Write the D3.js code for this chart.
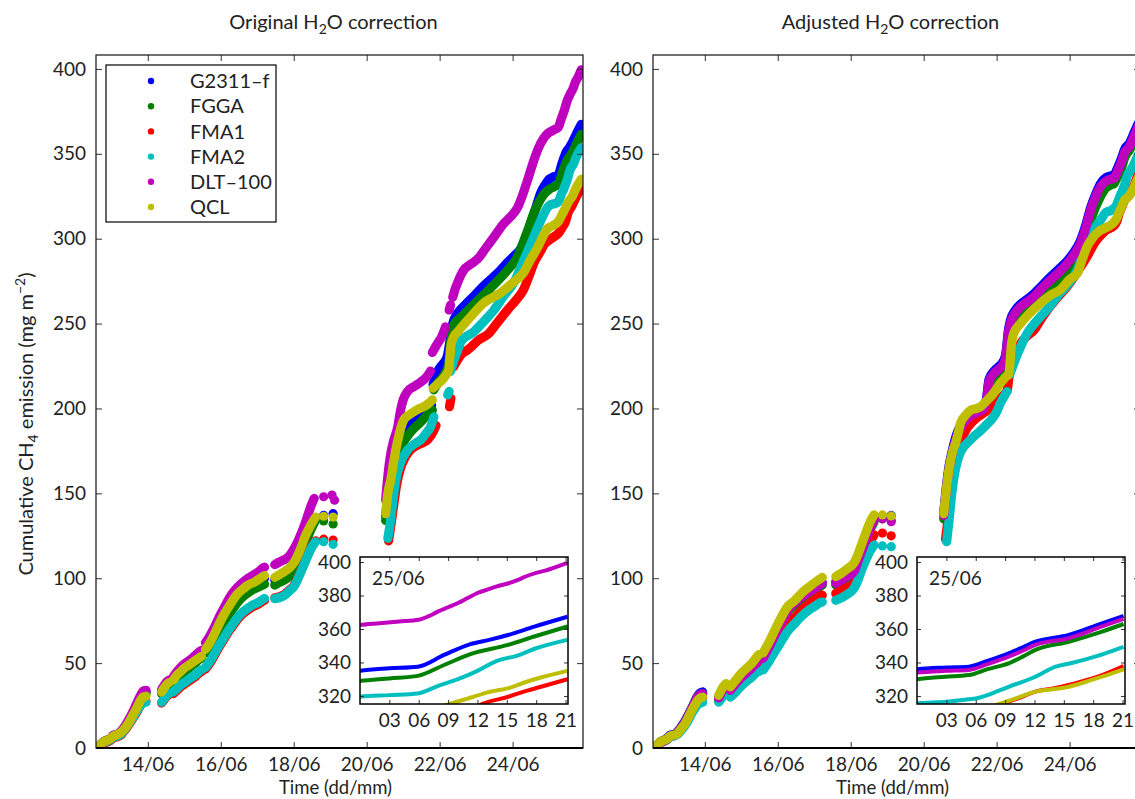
<!DOCTYPE html>
<html><head><meta charset="utf-8">
<script src="https://cdn.jsdelivr.net/npm/d3@7"></script>
<style>body{margin:0;background:#fff} text{font-family:Lato,"Open Sans",sans-serif;fill:#222}</style>
</head><body><svg id="c" width="1135" height="799"></svg>
<script>
const seriesNames = ["G2311–f","FGGA","FMA1","FMA2","DLT–100","QCL"];
const seriesColors = ["#0000ff","#008000","#ff0000","#00bfbf","#bf00bf","#bfbf00"];
const yTicks = [0,50,100,150,200,250,300,350,400];
const xTickDays = [14,16,18,20,22,24];
const insetYTicks = [320,340,360,380,400];
const insetXTicks = [3,6,9,12,15,18,21];
const insetDayLabel = "25/06";

// day-of-June (decimal), cumulative CH4 (mg m-2); null = gap
const origBlue = [[12.59,0],[12.68,1.5],[12.78,3.5],[12.88,4.5],[12.98,5.5],[13.05,7],[13.15,7.8],[13.25,9],[13.33,11],[13.42,14],[13.52,17.5],[13.62,21.5],[13.72,26],[13.8,30],[13.87,32.5],[13.95,33],null,
[14.38,33],[14.45,35.5],[14.52,37.5],[14.58,38.5],null,
[14.7,40],[14.8,42.5],[14.9,44.5],[15.0,46.5],[15.1,48],[15.2,50],[15.3,51.5],[15.4,53.5],[15.47,54.5],null,
[15.58,58],[15.7,61.5],[15.8,65],[15.9,69],[16.0,73.5],[16.1,77],[16.2,80.5],[16.3,84],[16.45,88],[16.6,91.5],[16.75,94],[16.9,96],[17.05,98],[17.15,99.5],[17.2,100],null,
[17.48,99],[17.6,100.5],[17.75,102],[17.9,104],[18.0,106],[18.1,110],[18.2,115],[18.3,121],[18.4,126],[18.5,131],[18.6,135.5],null,
[18.82,137],null,[19.08,138],null,
[20.52,137],[20.6,150],[20.7,164],[20.8,174],[20.9,181],[21.0,186],[21.2,192],[21.48,196],[21.65,199],[21.78,202],null,
[21.82,214],[21.95,222],[22.08,226],[22.2,230],[22.3,242],[22.36,250],[22.49,256],[22.7,261],[22.93,266],[23.15,271],[23.4,276],[23.65,281],[23.86,286],[24.05,290],[24.22,294],[24.36,301],[24.5,309],[24.65,319],[24.77,327],[24.9,332],[25.0,335],[25.125,336.5],[25.246,337.5],[25.358,344.5],[25.47,351],[25.55,353.5],[25.63,356.4],[25.742,361.4],[25.883,367.3]];
const origGreen = [[12.59,0],[12.68,1.5],[12.78,3.5],[12.88,4.5],[12.98,5.5],[13.05,7],[13.15,7.8],[13.25,9],[13.33,11],[13.42,13.5],[13.52,17],[13.62,21],[13.72,25.5],[13.8,29],[13.87,31.5],[13.95,32],null,
[14.38,32],[14.45,34.5],[14.52,36.5],[14.58,37.5],null,
[14.7,38.5],[14.8,41],[14.9,43],[15.0,45],[15.1,46.5],[15.2,48.5],[15.3,50],[15.4,52],[15.47,53],null,
[15.58,56],[15.7,59.5],[15.8,63],[15.9,67],[16.0,71],[16.1,74.5],[16.2,78],[16.3,81],[16.45,85.5],[16.6,89],[16.75,91.5],[16.9,93.5],[17.05,95],[17.15,96],[17.2,96.5],null,
[17.48,96],[17.6,97.5],[17.75,99],[17.9,101.5],[18.0,104],[18.1,107.5],[18.2,113],[18.3,119.5],[18.4,125],[18.5,130],[18.6,134],null,
[18.82,133.7],null,[19.08,132],null,
[20.52,134],[20.6,147],[20.7,159],[20.8,169],[20.9,175],[20.98,179],[21.2,186],[21.48,192],[21.65,196],[21.8,199],null,
[21.84,211],[21.95,215],[22.1,219],[22.25,226],[22.3,238],[22.38,249],[22.6,254],[23.04,263.5],[23.4,271],[23.86,281.5],[24.1,288],[24.4,304],[24.6,316],[24.85,326],[25.0,329],[25.125,330.5],[25.246,332],[25.358,338.5],[25.47,345],[25.63,350.5],[25.742,355.5],[25.883,361.5]];
const origRed = [[12.59,0],[12.68,1],[12.78,2.5],[12.88,3.5],[12.98,4.5],[13.05,6],[13.15,6.5],[13.25,7.5],[13.33,9.5],[13.42,12],[13.52,15],[13.62,18.5],[13.72,22],[13.8,25],[13.87,27],[13.95,27.5],null,
[14.38,26.5],[14.45,28.5],[14.52,30.5],[14.58,31.5],null,
[14.7,32],[14.8,34],[14.9,36],[15.0,37.5],[15.1,39],[15.2,40.5],[15.3,42],[15.4,44],[15.47,45],null,
[15.58,46.5],[15.7,50],[15.8,53.5],[15.9,57.5],[16.0,61],[16.1,64.5],[16.2,68],[16.3,71],[16.45,75.5],[16.6,79],[16.75,81.5],[16.9,83.5],[17.05,85],[17.15,86.5],[17.2,87],null,
[17.48,88.5],[17.6,89],[17.75,90.5],[17.9,93.5],[18.0,95.5],[18.1,99.5],[18.2,104.5],[18.3,109.5],[18.4,114.5],[18.5,119],[18.6,122],null,
[18.82,123],null,[19.08,122.5],null,
[20.6,122],[20.67,132],[20.74,143],[20.82,155],[20.93,165],[21.05,171],[21.2,175.5],[21.45,179],[21.67,181.5],[21.84,187],[21.9,190],null,
[22.27,201],[22.31,206],null,
[22.38,224.5],[22.49,228.5],[22.6,232],[22.77,234.5],[22.85,236],[23.05,240],[23.34,244],[23.6,251],[23.86,258],[24.1,264],[24.3,270],[24.45,278],[24.58,285.5],[24.75,292],[24.9,297.5],[25.0,299],[25.125,301],[25.25,303],[25.375,307],[25.45,310],[25.517,315],[25.63,319.5],[25.708,323],[25.77,325.5],[25.883,330]];
const origCyan = [[12.59,0],[12.68,1.5],[12.78,3],[12.88,4],[12.98,5],[13.05,6.5],[13.15,7],[13.25,8],[13.33,10],[13.42,12.5],[13.52,15.5],[13.62,19],[13.72,22.5],[13.8,25],[13.87,26.5],[13.95,27],null,
[14.38,27],[14.45,29],[14.52,31],[14.58,32],null,
[14.7,33],[14.8,35],[14.9,37],[15.0,38.5],[15.1,40],[15.2,41.5],[15.3,43],[15.4,45],[15.47,46],null,
[15.58,47.5],[15.7,51],[15.8,54.5],[15.9,58.5],[16.0,62],[16.1,65.5],[16.2,69],[16.3,72],[16.45,76.5],[16.6,80],[16.75,82.5],[16.9,84.5],[17.05,86],[17.15,87.5],[17.2,88],null,
[17.48,88],[17.6,88.5],[17.75,90],[17.9,93],[18.0,95],[18.1,99],[18.2,104],[18.3,109],[18.4,114],[18.5,118.5],[18.6,121.5],null,
[18.82,121.5],null,[19.08,120],null,
[20.58,123.5],[20.65,133],[20.71,144],[20.8,158],[20.93,168],[21.12,175.5],[21.3,179],[21.48,181.5],[21.65,186],[21.75,189],[21.84,195],null,
[22.22,208],[22.26,210],null,
[22.3,222],[22.4,229],[22.49,234],[22.6,240],[22.93,245],[23.2,251],[23.49,258],[23.75,266],[24.03,274],[24.3,287],[24.58,301],[24.8,312],[24.96,318.5],[25.0,319.5],[25.125,320.5],[25.246,321.5],[25.333,326],[25.417,330],[25.5,335],[25.583,341],[25.667,344],[25.75,348.5],[25.883,353.5]];
const origMagenta = [[12.59,0],[12.68,1.5],[12.78,3.5],[12.88,4.5],[12.98,5.5],[13.05,7.5],[13.15,8],[13.25,9.5],[13.33,11.5],[13.42,14.5],[13.52,18.5],[13.62,22.5],[13.72,27.5],[13.8,31],[13.87,33.5],[13.95,34],null,
[14.38,34.5],[14.45,37],[14.52,39],[14.58,40],null,
[14.7,42],[14.8,45],[14.9,47.5],[15.0,49.5],[15.1,51],[15.2,52.5],[15.3,54.5],[15.4,56.5],[15.47,57.5],null,
[15.58,62],[15.7,66],[15.8,70],[15.9,74.5],[16.0,79],[16.1,83],[16.2,87],[16.3,90.5],[16.45,94.5],[16.6,97.5],[16.75,100],[16.9,102],[17.05,104],[17.15,106],[17.2,106.5],null,
[17.48,108],[17.6,109.5],[17.75,111],[17.85,112.5],[18.0,117],[18.1,121],[18.2,126],[18.3,131.5],[18.4,138],[18.5,144],[18.56,147],null,
[18.82,148],null,[19.05,149],null,[19.12,146],null,
[20.52,146],[20.58,160],[20.65,172],[20.74,181],[20.85,189],[20.93,199],[21.0,205],[21.12,210],[21.3,213],[21.48,215.5],[21.62,218],[21.75,222],null,
[21.8,233],[21.88,236],[21.95,238.5],[22.05,242],[22.16,248],null,
[22.26,258],[22.3,261],null,
[22.36,265.5],[22.42,270],[22.49,274],[22.58,278.5],[22.66,281.5],[22.85,285],[23.04,288],[23.25,294],[23.49,301],[23.76,309],[23.95,313],[24.14,318.5],[24.28,326],[24.41,334.5],[24.55,344],[24.7,353],[24.82,358],[24.92,361],[25.0,362.5],[25.083,363.5],[25.167,364.5],[25.25,365.5],[25.29,367.5],[25.333,370.5],[25.375,373],[25.417,375.5],[25.458,378.5],[25.5,381.5],[25.542,383.5],[25.583,385.5],[25.625,387],[25.667,389],[25.708,391.5],[25.75,393.5],[25.792,395],[25.833,397],[25.883,399.5]];
const origYellow = [[12.59,0],[12.68,1.5],[12.78,3.5],[12.88,4.5],[12.98,5.5],[13.05,7],[13.15,7.8],[13.25,9],[13.33,10.5],[13.42,13],[13.52,16.5],[13.62,20.5],[13.72,24.5],[13.8,28],[13.87,30],[13.95,30.5],null,
[14.38,33],[14.45,35.5],[14.52,37.5],[14.58,38.5],null,
[14.7,40],[14.8,43],[14.9,45],[15.0,47],[15.1,48.5],[15.2,50],[15.3,51.5],[15.4,53],[15.47,54],null,
[15.58,58],[15.7,62],[15.8,66],[15.9,70.5],[16.0,75],[16.1,79],[16.2,82.5],[16.3,86],[16.45,90.5],[16.6,93.5],[16.75,96],[16.9,97.5],[17.05,99.5],[17.15,101],[17.2,101.5],null,
[17.48,100.5],[17.6,102],[17.75,104],[17.9,106.5],[18.0,109],[18.1,113],[18.2,118],[18.3,124],[18.4,128.5],[18.5,132.5],[18.6,136],null,
[18.82,136.5],null,[19.08,136],null,
[20.52,138],[20.58,150],[20.66,158],[20.75,170],[20.85,181],[20.93,188],[21.01,193],[21.15,196],[21.29,198],[21.45,200],[21.56,201],[21.7,203],[21.8,205],null,
[21.82,212],[21.95,214.5],[22.08,217],[22.18,220],[22.25,223],[22.28,230],[22.31,237],[22.38,242],[22.49,245],[22.85,254],[23.2,262],[23.67,268],[24.0,274],[24.3,280],[24.5,288],[24.69,295],[24.85,302],[24.96,306],[25.042,307],[25.125,308],[25.25,310],[25.375,315],[25.46,318.5],[25.54,322],[25.64,325],[25.71,328.5],[25.77,331],[25.883,335]];

const adjBlue = [[12.58,0],[12.68,1.5],[12.78,3.5],[12.88,4.5],[12.98,6],[13.05,7.5],[13.15,8],[13.25,9.5],[13.34,12],[13.45,15.5],[13.55,19.5],[13.62,22.5],[13.72,27],[13.8,30.5],[13.88,32.5],[13.94,33],null,
[14.38,30],[14.45,33],[14.52,35.5],[14.58,36.5],null,
[14.7,34.5],[14.85,38.5],[15.0,42],[15.15,45],[15.3,48],[15.42,51],[15.48,52.5],null,
[15.6,53.5],[15.7,57.5],[15.8,61.5],[15.9,66],[16.0,70.5],[16.1,74.5],[16.2,78.5],[16.3,82.5],[16.45,85.5],[16.6,88.5],[16.75,91],[16.9,93],[17.05,95],[17.15,96.5],[17.22,97.5],null,
[17.59,98],[17.75,100],[17.9,102],[18.09,105],[18.2,111],[18.3,117],[18.42,124],[18.53,130.5],[18.64,135.3],null,
[18.87,136.5],null,[19.11,137],null,
[20.55,138.5],[20.62,153.5],[20.7,166.5],[20.8,176.5],[20.9,184.5],[21.0,189.5],[21.15,194.5],[21.3,197.5],[21.5,199.5],[21.65,201.5],[21.72,205.5],[21.79,217],[21.93,222],[22.05,224.5],[22.2,228.5],[22.26,233.5],[22.29,239.5],[22.31,244],[22.38,252],[22.5,257.5],[22.66,261.5],[22.85,264.5],[23.02,267.5],[23.25,272.5],[23.48,277.5],[23.7,282],[23.94,287],[24.1,291.5],[24.3,299],[24.45,308.5],[24.58,318.5],[24.72,326.5],[24.85,332.5],[25.0,336],[25.125,337],[25.22,337.5],[25.3,341],[25.39,345.5],[25.45,349],[25.504,352.4],[25.646,356.4],[25.7875,363.4],[25.879,367.8]];
const adjGreen = [[12.58,0],[12.68,1.5],[12.78,3.5],[12.88,4.5],[12.98,5.5],[13.05,7],[13.15,7.8],[13.25,9],[13.34,11.5],[13.45,15],[13.55,19],[13.62,22],[13.72,26.5],[13.8,30],[13.88,31.5],[13.94,32],null,
[14.38,29],[14.45,32],[14.52,34.5],[14.58,35.5],null,
[14.7,33.5],[14.85,37.5],[15.0,41],[15.15,44],[15.3,47],[15.42,50],[15.48,51.5],null,
[15.6,52],[15.7,56],[15.8,60],[15.9,64.5],[16.0,69],[16.1,73],[16.2,77],[16.3,81],[16.45,84],[16.6,87],[16.75,89.5],[16.9,91.5],[17.05,93.5],[17.15,95],[17.22,96],null,
[17.59,96],[17.75,98],[17.9,100],[18.09,103],[18.2,109],[18.3,115],[18.42,122],[18.53,128.5],[18.64,133.3],null,
[18.87,135],null,[19.11,134],null,
[20.55,135],[20.62,149],[20.7,162],[20.8,173],[20.9,181],[21.0,186],[21.15,191],[21.3,194],[21.5,196],[21.65,198],[21.8,206],[21.93,214],[22.05,218],[22.2,223],[22.29,230],[22.33,237],[22.38,242.3],[22.55,250],[22.75,256],[23.0,261],[23.3,268],[23.6,274],[23.94,281.6],[24.2,291],[24.48,305],[24.7,318],[24.85,325],[25.0,330],[25.12,331.5],[25.22,332.5],[25.3,336],[25.39,339.5],[25.45,343.5],[25.504,347.5],[25.646,352.4],[25.7875,358.4],[25.879,363]];
const adjRed = [[12.58,0],[12.68,1.5],[12.78,3.5],[12.88,4.5],[12.98,5.5],[13.05,7],[13.15,7.5],[13.25,8.5],[13.34,11],[13.45,14],[13.55,18],[13.62,21],[13.72,25],[13.8,28],[13.88,29],[13.94,29.5],null,
[14.38,28],[14.45,30.5],[14.52,32.5],[14.58,33.5],null,
[14.7,31],[14.85,34.5],[15.0,38],[15.15,41],[15.3,44],[15.42,47],[15.48,48],null,
[15.6,48],[15.7,51.5],[15.8,55],[15.9,59],[16.0,62.5],[16.1,66],[16.2,69.5],[16.3,72.5],[16.45,76.5],[16.6,80],[16.75,83],[16.9,85.5],[17.05,88],[17.15,89.5],[17.22,90],null,
[17.59,91],[17.75,93],[17.9,94.5],[18.09,97],[18.2,103],[18.3,109],[18.42,116],[18.53,121.5],[18.64,125.5],null,
[18.87,126.6],null,[19.11,125],null,
[20.6,123],[20.67,135],[20.75,150],[20.85,165],[20.95,176],[21.1,185],[21.38,193],[21.55,196],[21.75,199],[22.02,205],[22.2,208],[22.29,211],[22.33,217],[22.38,224.5],[22.5,230],[22.66,238.4],[22.85,243],[23.02,246],[23.2,252],[23.39,258],[23.65,265],[23.94,272],[24.2,280],[24.48,289.5],[24.7,298],[24.9,303],[25.0,305],[25.21,307.5],[25.29,310],[25.3625,315.2],[25.43,318.5],[25.504,322.6],[25.58,324.5],[25.646,326.6],[25.72,329.5],[25.7875,332.5],[25.879,337.9]];
const adjCyan = [[12.58,0],[12.68,1.5],[12.78,3],[12.88,4],[12.98,5],[13.05,6.5],[13.15,7],[13.25,8],[13.34,10],[13.45,13],[13.55,16.5],[13.62,19.5],[13.72,23],[13.8,25.5],[13.88,26.5],[13.94,27],null,
[14.38,27],[14.45,29],[14.52,31],[14.58,32],null,
[14.7,30],[14.85,33],[15.0,36.5],[15.15,39.5],[15.3,42],[15.42,44.5],[15.48,45],null,
[15.6,46],[15.7,49],[15.8,52.5],[15.9,56],[16.0,59.5],[16.1,63],[16.2,66.5],[16.3,69.5],[16.45,73],[16.6,76.5],[16.75,79.5],[16.9,82],[17.05,84],[17.15,85.5],[17.22,86],null,
[17.59,87],[17.75,88.5],[17.9,90.5],[18.09,94],[18.2,99],[18.3,105],[18.42,111],[18.53,116],[18.64,119.6],null,
[18.87,119],null,[19.11,118.6],null,
[20.63,121.5],[20.7,135],[20.77,150],[20.85,162],[20.95,171],[21.05,176],[21.2,179.7],[21.4,184],[21.56,187],[21.7,190],[21.84,193],[22.0,198],[22.1,203],[22.2,207],[22.29,210],null,
[22.36,220],[22.47,226.6],[22.65,236],[22.84,244.3],[23.0,249],[23.2,254],[23.45,260],[23.66,266],[23.95,273],[24.21,281.6],[24.35,290],[24.48,297.3],[24.65,305],[24.85,311],[25.0,315.6],[25.125,316.5],[25.22,318],[25.25,318.5],[25.39,325.5],[25.504,331.5],[25.59,337.5],[25.667,340],[25.758,343.5],[25.879,349.4]];
const adjMagenta = [[12.58,0],[12.68,1],[12.78,3],[12.88,4],[12.98,5.5],[13.05,7],[13.15,7.5],[13.25,9],[13.34,11.5],[13.45,15],[13.55,19],[13.62,22],[13.72,26.5],[13.8,30],[13.88,31.5],[13.94,32],null,
[14.38,29.5],[14.45,32.5],[14.52,35],[14.58,36],null,
[14.7,34],[14.85,38],[15.0,41.5],[15.15,44.5],[15.3,47.5],[15.42,50.5],[15.48,52],null,
[15.6,53],[15.7,57],[15.8,61],[15.9,65.5],[16.0,70],[16.1,74],[16.2,78],[16.3,82],[16.45,85],[16.6,88],[16.75,90.5],[16.9,92.5],[17.05,94.5],[17.15,96],[17.22,97],null,
[17.59,97],[17.75,99],[17.9,101],[18.09,104],[18.2,110],[18.3,116],[18.42,123],[18.53,129.5],[18.64,134.3],null,
[18.87,135],null,[19.11,133.3],null,
[20.55,137],[20.62,152],[20.7,165],[20.8,175],[20.9,183],[21.0,188],[21.15,193],[21.3,196],[21.5,198],[21.65,200],[21.72,204],[21.79,215.8],[21.93,220.7],[22.05,223],[22.2,226.8],[22.26,232],[22.29,238],[22.31,242.3],[22.38,250.2],[22.5,256],[22.66,260],[22.85,263],[23.02,265.9],[23.25,271],[23.48,275.7],[23.7,280],[23.94,285.5],[24.1,290],[24.3,297.3],[24.45,307],[24.58,317],[24.72,325],[24.85,330.7],[25.0,334],[25.125,335],[25.22,335.5],[25.3,339],[25.39,343.5],[25.45,347],[25.504,350.5],[25.646,354.5],[25.7875,361.5],[25.879,366]];
const adjYellow = [[12.58,0],[12.68,1.5],[12.78,3.5],[12.88,4.5],[12.98,5.5],[13.05,7],[13.15,7.5],[13.25,8.5],[13.34,11],[13.45,14],[13.55,18],[13.62,21],[13.72,25],[13.8,28],[13.88,29.5],[13.94,30],null,
[14.38,31],[14.45,34],[14.52,36.5],[14.58,38],null,
[14.7,36],[14.85,40],[15.0,44],[15.15,47],[15.3,50],[15.42,53.5],[15.48,55],null,
[15.6,56],[15.7,60],[15.8,64],[15.9,68.5],[16.0,73],[16.1,77],[16.2,81],[16.3,84],[16.45,86.5],[16.6,90],[16.75,93],[16.9,95.5],[17.05,98],[17.15,99.5],[17.22,100.5],null,
[17.59,101],[17.75,103],[17.9,105.5],[18.09,109],[18.2,114],[18.3,120],[18.42,127],[18.53,133],[18.64,137.3],null,
[18.87,137.3],null,[19.11,136.7],null,
[20.55,138],[20.62,152],[20.7,165],[20.8,175],[20.88,180],[20.95,186],[21.01,191.3],[21.15,196],[21.29,199],[21.45,200],[21.56,201],[21.7,204],[21.84,207],[21.95,210],[22.1,214.8],[22.25,218.5],[22.34,220.7],[22.37,228],[22.4,236.4],[22.47,244.3],[22.66,250.2],[22.9,256],[23.2,262],[23.5,267],[23.75,270],[24.0,276],[24.21,279.6],[24.35,288],[24.48,295.3],[24.65,301],[24.85,305],[25.0,306.5],[25.125,308],[25.21,309.5],[25.29,312],[25.35,315.2],[25.42,318.5],[25.504,322.6],[25.58,324],[25.646,325.5],[25.72,328.5],[25.7875,331.5],[25.883,336]];

const panels = [
  {title:"Original", left:96, series:[origBlue,origGreen,origRed,origCyan,origMagenta,origYellow], legend:true, ylabel:true},
  {title:"Adjusted", left:653, series:[adjBlue,adjGreen,adjRed,adjCyan,adjMagenta,adjYellow], legend:false, ylabel:false}
];

const svg = d3.select("#c");
const W = 487, TOP = 55, BOT = 748;
const FS = 19, LFS = 20;

function segments(arr){const out=[];let cur=[];for(const p of arr){if(p===null){if(cur.length)out.push(cur);cur=[];}else cur.push(p);}if(cur.length)out.push(cur);return out;}
const pad = n => String(n).padStart(2,"0");

panels.forEach((P,pi)=>{
  const x = d3.scaleLinear().domain([12.58,25.93]).range([P.left,P.left+W]);
  const y = d3.scaleLinear().domain([0,408.2]).range([BOT,TOP]);
  const g = svg.append("g");
  const cid = "clip"+pi;
  svg.append("clipPath").attr("id",cid).append("rect").attr("x",P.left).attr("y",TOP).attr("width",W).attr("height",BOT-TOP);

  const t = g.append("text").attr("x",P.left+W/2-6).attr("y",29).attr("text-anchor","middle").attr("font-size",LFS);
  t.append("tspan").text(P.title+" H");
  t.append("tspan").attr("font-size",14).attr("dy",5).text("2");
  t.append("tspan").attr("dy",-5).text("O correction");

  const dg = g.append("g").attr("clip-path",`url(#${cid})`);
  const line = d3.line().x(d=>x(d[0])).y(d=>y(d[1])).curve(d3.curveMonotoneX);
  P.series.forEach((arr,si)=>{
    segments(arr).forEach(seg=>{
      if(seg.length===1){
        dg.append("circle").attr("cx",x(seg[0][0])).attr("cy",y(seg[0][1])).attr("r",4.6).attr("fill",seriesColors[si]);
      } else {
        dg.append("path").attr("d",line(seg)).attr("fill","none").attr("stroke",seriesColors[si])
          .attr("stroke-width",9.2).attr("stroke-linecap","round").attr("stroke-linejoin","round");
      }
    });
  });

  const ax = g.append("g");
  const styleTicks = s=>{s.select(".domain").remove();s.selectAll("text").attr("font-size",FS).attr("font-family","Lato").attr("fill","#222");s.selectAll("line").attr("stroke","#333");};
  ax.append("g").attr("transform",`translate(0,${BOT})`)
    .call(d3.axisBottom(x).tickValues(xTickDays).tickSize(-6).tickPadding(10).tickFormat(d=>pad(d)+"/06")).call(styleTicks);
  ax.append("g").attr("transform",`translate(0,${TOP})`)
    .call(d3.axisTop(x).tickValues(xTickDays).tickSize(-6).tickFormat("")).call(styleTicks);
  ax.append("g").attr("transform",`translate(${P.left},0)`)
    .call(d3.axisLeft(y).tickValues(yTicks).tickSize(-6).tickPadding(10)).call(styleTicks);
  ax.append("g").attr("transform",`translate(${P.left+W},0)`)
    .call(d3.axisRight(y).tickValues(yTicks).tickSize(-6).tickFormat("")).call(styleTicks);
  ax.append("rect").attr("x",P.left).attr("y",TOP).attr("width",W).attr("height",BOT-TOP)
    .attr("fill","none").attr("stroke","#111").attr("stroke-width",1.2);
  ax.append("line").attr("x1",P.left).attr("x2",P.left+W).attr("y1",BOT).attr("y2",BOT).attr("stroke","#000").attr("stroke-width",2);

  g.append("text").attr("x",P.left+W/2 - 4).attr("y",794).attr("text-anchor","middle").attr("font-size",18.5).text("Time (dd/mm)");

  if(P.ylabel){
    const yl = g.append("text").attr("transform",`translate(33,424) rotate(-90)`).attr("text-anchor","middle").attr("font-size",LFS);
    yl.append("tspan").text("Cumulative CH");
    yl.append("tspan").attr("font-size",14).attr("dy",5).text("4");
    yl.append("tspan").attr("dy",-5).text(" emission (mg m");
    yl.append("tspan").attr("font-size",14).attr("dy",-8).text("−2");
    yl.append("tspan").attr("dy",8).text(")");
  }

  if(P.legend){
    const lg = g.append("g");
    lg.append("rect").attr("x",106).attr("y",65).attr("width",170).attr("height",157).attr("fill","#fff").attr("stroke","#000").attr("stroke-width",1.2);
    seriesNames.forEach((n,i)=>{
      const cy = 81 + i*25.2;
      lg.append("circle").attr("cx",151).attr("cy",cy).attr("r",3.2).attr("fill",seriesColors[i]);
      lg.append("text").attr("x",190).attr("y",cy).attr("dy","0.36em").attr("font-size",LFS).text(n);
    });
  }

  const IL = P.left + 264, IW = 208, IT = 557, IB = 704;
  const ix = d3.scaleLinear().domain([0,21.25]).range([IL,IL+IW]);
  const iy = d3.scaleLinear().domain([315.2,403]).range([IB,IT]);
  const ig = g.append("g");
  ig.append("rect").attr("x",IL).attr("y",IT).attr("width",IW).attr("height",IB-IT).attr("fill","#fff");
  const icid = "iclip"+pi;
  svg.append("clipPath").attr("id",icid).append("rect").attr("x",IL).attr("y",IT).attr("width",IW).attr("height",IB-IT);
  const iline = d3.line().x(d=>ix((d[0]-25)*24)).y(d=>iy(d[1])).curve(d3.curveMonotoneX);
  const idg = ig.append("g").attr("clip-path",`url(#${icid})`);
  P.series.forEach((arr,si)=>{
    const pts = arr.filter(p=>p!==null && p[0]>=24.8);
    idg.append("path").attr("d",iline(pts)).attr("fill","none").attr("stroke",seriesColors[si]).attr("stroke-width",4).attr("stroke-linejoin","round");
  });
  ig.append("g").attr("transform",`translate(0,${IB})`)
    .call(d3.axisBottom(ix).tickValues(insetXTicks).tickSize(-4).tickPadding(10).tickFormat(pad)).call(styleTicks);
  ig.append("g").attr("transform",`translate(0,${IT})`)
    .call(d3.axisTop(ix).tickValues(insetXTicks).tickSize(-4).tickFormat("")).call(styleTicks);
  ig.append("g").attr("transform",`translate(${IL},0)`)
    .call(d3.axisLeft(iy).tickValues(insetYTicks).tickSize(-4).tickPadding(9)).call(styleTicks);
  ig.append("g").attr("transform",`translate(${IL+IW},0)`)
    .call(d3.axisRight(iy).tickValues(insetYTicks).tickSize(-4).tickFormat("")).call(styleTicks);
  ig.append("rect").attr("x",IL).attr("y",IT).attr("width",IW).attr("height",IB-IT).attr("fill","none").attr("stroke","#000").attr("stroke-width",1.5);
  ig.append("text").attr("x",IL+12).attr("y",IT+28).attr("font-size",FS).text(insetDayLabel);
});
</script></body></html>
